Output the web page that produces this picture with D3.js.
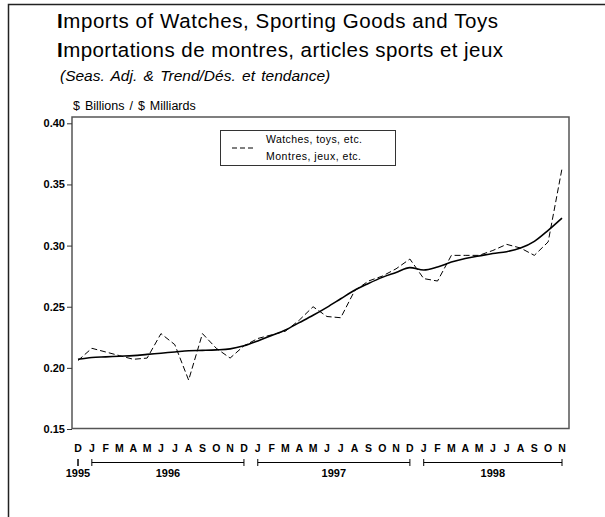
<!DOCTYPE html>
<html>
<head>
<meta charset="utf-8">
<script src="https://cdn.jsdelivr.net/npm/d3@7"></script>
<style>
  body { margin: 0; background: #fff; }
  svg { display: block; font-family: "Liberation Sans", Arial, sans-serif; }
</style>
</head>
<body>
<div id="chart"></div>
<script>
// month labels, Dec 1995 .. Nov 1998
const MONTHS = ["D",
  "J","F","M","A","M","J","J","A","S","O","N","D",
  "J","F","M","A","M","J","J","A","S","O","N","D",
  "J","F","M","A","M","J","J","A","S","O","N"];

// seasonally adjusted series (dashed)
const SEAS_ADJ = [0.206,
  0.216, 0.213, 0.210, 0.207, 0.208, 0.228, 0.219, 0.190, 0.228, 0.216, 0.208, 0.218,
  0.224, 0.227, 0.230, 0.239, 0.250, 0.242, 0.241, 0.263, 0.271, 0.275, 0.281, 0.289,
  0.273, 0.271, 0.292, 0.292, 0.292, 0.296, 0.301, 0.298, 0.292, 0.303, 0.363];

// trend series (solid)
const TREND = [0.207,
  0.2085, 0.209, 0.2095, 0.210, 0.211, 0.212, 0.213, 0.214, 0.2143, 0.2147, 0.2155, 0.218,
  0.222, 0.2265, 0.231, 0.237, 0.243, 0.2495, 0.2565, 0.2635, 0.269, 0.274, 0.278, 0.282,
  0.280, 0.2825, 0.2865, 0.2895, 0.2915, 0.2935, 0.295, 0.298, 0.3035, 0.3125, 0.3225];

const Y_TICKS = [0.15, 0.20, 0.25, 0.30, 0.35, 0.40];

// years: label, first month index, last month index
const YEARS = [
  {label: "1995", from: 0, to: 0},
  {label: "1996", from: 1, to: 12},
  {label: "1997", from: 13, to: 24},
  {label: "1998", from: 25, to: 35}
];

const WIDTH = 605;
const HEIGHT = 517;

const X_SCALE = d3.scaleLinear()
                  .domain([0, MONTHS.length - 1])
                  .range([78, 562]);
const Y_SCALE = d3.scaleLinear()
                  .domain([0.15, 0.40])
                  .range([429, 123.3]);

const svg = d3.select('#chart')
              .append('svg')
              .attr('width', WIDTH)
              .attr('height', HEIGHT);

// outer frame
svg.append('rect')
   .attr('x', 8.5).attr('y', 4.5)
   .attr('width', 620).attr('height', 540)
   .attr('fill', 'none')
   .attr('stroke', '#222')
   .attr('stroke-width', 1.5);

// titles
const t1 = svg.append('text')
   .attr('x', 57).attr('y', 28)
   .attr('font-size', 20.5)
   .attr('textLength', 441)
   .attr('lengthAdjust', 'spacing');
t1.append('tspan').attr('font-weight', 'bold').text('I');
t1.append('tspan').text('mports of Watches, Sporting Goods and Toys');

const t2 = svg.append('text')
   .attr('x', 57).attr('y', 57)
   .attr('font-size', 20.5)
   .attr('textLength', 446)
   .attr('lengthAdjust', 'spacing');
t2.append('tspan').attr('font-weight', 'bold').text('I');
t2.append('tspan').text('mportations de montres, articles sports et jeux');

svg.append('text')
   .attr('x', 60).attr('y', 81)
   .attr('font-size', 15.5)
   .attr('font-style', 'italic')
   .attr('word-spacing', 2)
   .text('(Seas. Adj. & Trend/Dés. et tendance)');

svg.append('text')
   .attr('x', 73).attr('y', 110)
   .attr('font-size', 12.5)
   .attr('word-spacing', 1.5)
   .text('$ Billions / $ Milliards');

// plot frame
svg.append('rect')
   .attr('x', 72).attr('y', 117)
   .attr('width', 497).attr('height', 311.5)
   .attr('fill', 'none')
   .attr('stroke', '#555')
   .attr('stroke-width', 1.5);

// y axis
const Y_AXIS = d3.axisLeft(Y_SCALE)
                 .tickValues(Y_TICKS)
                 .tickFormat(d3.format('.2f'))
                 .tickSize(5)
                 .tickSizeOuter(0);
const yg = svg.append('g')
   .attr('transform', 'translate(72,0)')
   .call(Y_AXIS);
yg.select('.domain').remove();
yg.selectAll('line').attr('stroke', '#333');
yg.selectAll('text')
  .attr('font-family', '"Liberation Sans", Arial, sans-serif')
  .attr('font-size', 11)
  .attr('font-weight', 'bold')
  .attr('fill', '#000')
  .attr('x', -7);

// x axis month letters
svg.append('g')
   .selectAll('text')
   .data(MONTHS)
   .enter()
   .append('text')
   .attr('x', (d, i) => X_SCALE(i))
   .attr('y', 452)
   .attr('text-anchor', 'middle')
   .attr('font-size', 10.5)
   .attr('font-weight', 'bold')
   .text(d => d);

// year brackets
const yearG = svg.append('g').attr('stroke', '#000').attr('stroke-width', 1);
YEARS.forEach(yr => {
  const x0 = X_SCALE(yr.from);
  const x1 = X_SCALE(yr.to);
  if (yr.to > yr.from) {
    yearG.append('line').attr('x1', x0).attr('x2', x1).attr('y1', 462.5).attr('y2', 462.5);
  }
  yearG.append('line').attr('x1', x0).attr('x2', x0).attr('y1', 459).attr('y2', 466);
  yearG.append('line').attr('x1', x1).attr('x2', x1).attr('y1', 459).attr('y2', 466);
  svg.append('text')
     .attr('x', (x0 + x1) / 2)
     .attr('y', 477)
     .attr('text-anchor', 'middle')
     .attr('font-size', 11)
     .attr('font-weight', 'bold')
     .text(yr.label);
});

// lines
const line = d3.line()
               .x((d, i) => X_SCALE(i))
               .y(d => Y_SCALE(d));

svg.append('path')
   .datum(SEAS_ADJ)
   .attr('d', line)
   .attr('fill', 'none')
   .attr('stroke', '#000')
   .attr('stroke-width', 1)
   .attr('stroke-dasharray', '6,3');

svg.append('path')
   .datum(TREND)
   .attr('d', line.curve(d3.curveMonotoneX))
   .attr('fill', 'none')
   .attr('stroke', '#000')
   .attr('stroke-width', 1.6);

// legend
svg.append('rect')
   .attr('x', 220.5).attr('y', 130.5)
   .attr('width', 175).attr('height', 35)
   .attr('fill', '#fff')
   .attr('stroke', '#333')
   .attr('stroke-width', 1);
svg.append('line')
   .attr('x1', 232).attr('x2', 255)
   .attr('y1', 148).attr('y2', 148)
   .attr('stroke', '#000')
   .attr('stroke-dasharray', '5,3');
svg.append('text')
   .attr('x', 266).attr('y', 143)
   .attr('font-size', 10.5)
   .attr('textLength', 96)
   .attr('lengthAdjust', 'spacing')
   .text('Watches, toys, etc.');
svg.append('text')
   .attr('x', 266).attr('y', 160)
   .attr('font-size', 10.5)
   .attr('textLength', 95)
   .attr('lengthAdjust', 'spacing')
   .text('Montres, jeux, etc.');
</script>
</body>
</html>
